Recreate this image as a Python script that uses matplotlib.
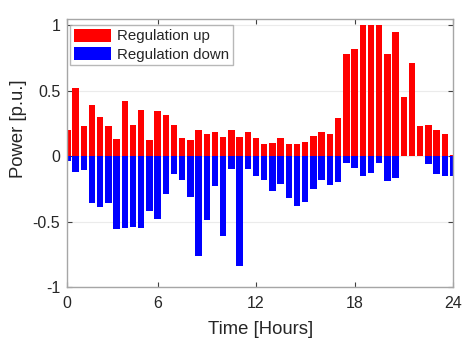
import matplotlib
matplotlib.use("Agg")
import matplotlib.pyplot as plt
import numpy as np

# Half-hour slots 1..48 (MATLAB-style index), labelled in hours
slots = list(range(1, 49))
tick_slots = [1, 12, 24, 36, 48]
tick_labels = ["0", "6", "12", "18", "24"]

reg_up = [0.20, 0.52, 0.23, 0.39, 0.30, 0.23, 0.13, 0.42, 0.24, 0.35,
          0.12, 0.34, 0.31, 0.24, 0.14, 0.125, 0.20, 0.17, 0.18, 0.145,
          0.20, 0.145, 0.18, 0.14, 0.09, 0.10, 0.14, 0.09, 0.09, 0.11,
          0.15, 0.18, 0.17, 0.29, 0.78, 0.82, 1.00, 1.00, 1.00, 0.78,
          0.95, 0.45, 0.71, 0.23, 0.24, 0.20, 0.17, 0.01]

reg_down = [-0.04, -0.12, -0.11, -0.36, -0.39, -0.36, -0.56, -0.55, -0.54, -0.55,
            -0.42, -0.48, -0.29, -0.14, -0.18, -0.31, -0.76, -0.49, -0.23, -0.61,
            -0.10, -0.84, -0.10, -0.15, -0.18, -0.27, -0.21, -0.32, -0.38, -0.35,
            -0.25, -0.18, -0.22, -0.20, -0.05, -0.09, -0.155, -0.13, -0.05, -0.19,
            -0.17, 0.0, 0.0, 0.0, -0.06, -0.14, -0.155, -0.15]

plt.rcParams['font.family'] = ['Liberation Sans', 'DejaVu Sans']

fig = plt.figure(figsize=(4.62, 3.39), dpi=100)
ax = fig.add_axes([67.3/462, 1-287/339, (453-67.3)/462, (287-19)/339])

ax.bar(slots, reg_up, width=0.78, color='#ff0000', edgecolor='none', label='Regulation up', zorder=2)
ax.bar(slots, reg_down, width=0.78, color='#0000ff', edgecolor='none', label='Regulation down', zorder=2)

ax.set_xlim(1, 48)
ax.set_ylim(-1, 1.046)
ax.set_xticks(tick_slots)
ax.set_xticklabels(tick_labels)
ax.set_yticks([-1, -0.5, 0, 0.5, 1])
ax.set_yticklabels(["-1", "-0.5", "0", "0.5", "1"])

ax.grid(axis='y', color='#ebebeb', linewidth=0.8, zorder=0)
ax.set_axisbelow(True)

tc = '#262626'
ax.tick_params(direction='in', top=True, right=True, length=3.5, width=0.8,
               color='#404040', labelsize=11.5, labelcolor=tc, pad=5)
ax.tick_params(axis='x', pad=6.5)
for s in ax.spines.values():
    s.set_color('#a6a6a6')
    s.set_linewidth(1.0)

ax.set_xlabel("Time [Hours]", fontsize=13.3, color=tc)
ax.set_ylabel("Power [p.u.]", fontsize=13.3, color=tc)
ax.xaxis.set_label_coords(0.5, -0.157)
ax.yaxis.set_label_coords(-0.126, 0.59)
ax.xaxis.label.set_va('center')
ax.yaxis.label.set_va('center')

leg = ax.legend(loc='upper left', bbox_to_anchor=(0.007, 0.978), borderaxespad=0,
                fontsize=10.8, frameon=True, fancybox=False, handlelength=2.5,
                handleheight=1.0, handletextpad=0.4, borderpad=0.25, labelspacing=0.22)
leg.get_frame().set_edgecolor('#a6a6a6')
leg.get_frame().set_linewidth(1.0)
for t in leg.get_texts():
    t.set_color(tc)

fig.savefig("out.png", dpi=100)
